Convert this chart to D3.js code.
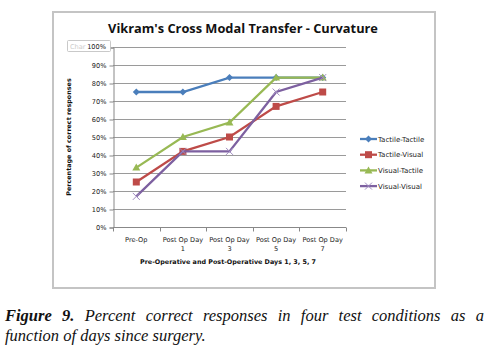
<!DOCTYPE html>
<html><head><meta charset="utf-8">
<script src="https://cdn.jsdelivr.net/npm/d3@7"></script>
<style>
body{margin:0;background:#fff;width:501px;height:356px;overflow:hidden;position:relative}
.cap{position:absolute;left:5px;width:479px;font-family:"Liberation Serif","DejaVu Serif",serif;font-style:italic;font-size:16.5px;line-height:20px;color:#111;white-space:nowrap}
#cap1{top:306px;text-align:justify;text-align-last:justify;white-space:normal}
#cap2{top:326px}
</style></head><body>
<svg id="c" width="501" height="300" style="position:absolute;left:0;top:0"></svg>
<div class="cap" id="cap1"><b>Figure&nbsp;9.</b> Percent correct responses in four test conditions as a</div>
<div class="cap" id="cap2">function of days since surgery.</div>
<script>
const categories = [["Pre-Op"],["Post Op Day","1"],["Post Op Day","3"],["Post Op Day","5"],["Post Op Day","7"]];
const seriesNames = ["Tactile-Tactile","Tactile-Visual","Visual-Tactile","Visual-Visual"];
const tactileTactile = [75,75,83,83,83];
const tactileVisual = [25,42,50,67,75];
const visualTactile = [33,50,58,83,83];
const visualVisual = [17,42,42,75,83];
const yTicks = [0,10,20,30,40,50,60,70,80,90,100];
const colors = ["#4a7ebb","#be4b48","#98b954","#7d60a0"];
const markers = ["diamond","square","triangle","x"];
const series = [tactileTactile,tactileVisual,visualTactile,visualVisual];

const svg = d3.select("#c");
const L=113,R=346,T=47,B=227;
svg.append("rect").attr("x",53).attr("y",12).attr("width",382).attr("height",276)
  .attr("fill","#fff").attr("stroke","#c4c4c4").attr("stroke-width",2);
svg.append("text").attr("x",243).attr("y",33).attr("text-anchor","middle")
  .attr("font-family","'Open Sans','Liberation Sans',sans-serif").attr("font-weight","bold")
  .attr("font-size","12.8px").attr("fill","#111").text("Vikram's Cross Modal Transfer - Curvature");

const x = d3.scaleBand().domain(d3.range(categories.length)).range([L,R]);
const y = d3.scaleLinear().domain([0,100]).range([B,T]);

svg.append("g").selectAll("line").data(yTicks.filter(d=>d>0)).join("line")
  .attr("x1",L).attr("x2",R).attr("y1",d=>y(d)+0.5).attr("y2",d=>y(d)+0.5)
  .attr("stroke","#9a9a9a").attr("stroke-width",1);

const yAxis = d3.axisLeft(y).tickValues(yTicks).tickFormat(d=>d+"%").tickSize(4).tickPadding(3);
const gy = svg.append("g").attr("transform",`translate(${L+0.5},0.5)`).call(yAxis);
gy.select(".domain").attr("stroke","#888");
gy.selectAll(".tick line").attr("stroke","#888");
gy.selectAll("text").attr("font-family","'DejaVu Sans',Verdana,sans-serif").attr("font-size","6.6px").attr("fill","#222");

const gx = svg.append("g").attr("transform",`translate(0,${B+0.5})`);
gx.append("line").attr("x1",L).attr("x2",R).attr("stroke","#888");
gx.selectAll(".tk").data(d3.range(categories.length+1)).join("line")
  .attr("x1",d=>Math.round(L+d*x.bandwidth())+0.5).attr("x2",d=>Math.round(L+d*x.bandwidth())+0.5)
  .attr("y1",0).attr("y2",4).attr("stroke","#888");
const xl = gx.selectAll(".xl").data(categories).join("text")
  .attr("text-anchor","middle").attr("font-family","'DejaVu Sans',Verdana,sans-serif")
  .attr("font-size","6.6px").attr("fill","#222");
xl.each(function(d,i){
  const t=d3.select(this);
  d.forEach((s,j)=>t.append("tspan").attr("x",x(i)+x.bandwidth()/2).attr("y",14+j*9).text(s));
});

svg.append("text").attr("x",228).attr("y",264).attr("text-anchor","middle")
  .attr("font-family","'DejaVu Sans',Verdana,sans-serif").attr("font-weight","bold")
  .attr("font-size","6.4px").attr("fill","#111").text("Pre-Operative and Post-Operative Days  1, 3, 5, 7");
svg.append("text").attr("transform","translate(71,137) rotate(-90)").attr("text-anchor","middle")
  .attr("font-family","'DejaVu Sans',Verdana,sans-serif").attr("font-weight","bold")
  .attr("font-size","6.4px").attr("fill","#111").text("Percentage of correct responses");

const line = d3.line().x((d,i)=>x(i)+x.bandwidth()/2).y(d=>y(d));
function marker(g,type,cx,cy,col){
  if(type==="diamond") g.append("path").attr("d",`M${cx},${cy-3.5}L${cx+3.5},${cy}L${cx},${cy+3.5}L${cx-3.5},${cy}Z`).attr("fill",col);
  else if(type==="square") g.append("rect").attr("x",cx-3.5).attr("y",cy-3.5).attr("width",7).attr("height",7).attr("fill",col);
  else if(type==="triangle") g.append("path").attr("d",`M${cx},${cy-4}L${cx+4},${cy+3}L${cx-4},${cy+3}Z`).attr("fill",col);
  else g.append("path").attr("d",`M${cx-3.5},${cy-3.5}L${cx+3.5},${cy+3.5}M${cx+3.5},${cy-3.5}L${cx-3.5},${cy+3.5}`).attr("stroke","#a08cc0").attr("stroke-width",1);
}
series.forEach((s,k)=>{
  const g=svg.append("g");
  g.append("path").attr("d",line(s)).attr("fill","none").attr("stroke",colors[k]).attr("stroke-width",2.3);
  s.forEach((v,i)=>marker(g,markers[k],x(i)+x.bandwidth()/2,y(v),colors[k]));
});

const lg = svg.append("g");
seriesNames.forEach((n,k)=>{
  const yy=139+k*15.7;
  lg.append("line").attr("x1",360).attr("x2",377).attr("y1",yy).attr("y2",yy).attr("stroke",colors[k]).attr("stroke-width",2.3);
  marker(lg,markers[k],368.5,yy,colors[k]);
  lg.append("text").attr("x",378).attr("y",yy+2.5).attr("font-family","'DejaVu Sans',Verdana,sans-serif")
    .attr("font-size","7px").attr("fill","#222").text(n);
});

svg.append("rect").attr("x",67.5).attr("y",40.5).attr("width",43).attr("height",11).attr("rx",1)
  .attr("fill","#fff").attr("stroke","#bbb").attr("stroke-width",0.8);
svg.append("text").attr("x",70).attr("y",48.5).attr("font-family","'DejaVu Sans',sans-serif")
  .attr("font-size","6.6px").attr("fill","#ccc").text("Char");
svg.append("text").attr("x",106).attr("y",49).attr("text-anchor","end").attr("font-family","'DejaVu Sans',sans-serif")
  .attr("font-size","6.6px").attr("fill","#222").text("100%");
gy.selectAll(".tick").filter(d=>d===100).select("text").remove();
</script>
</body></html>
